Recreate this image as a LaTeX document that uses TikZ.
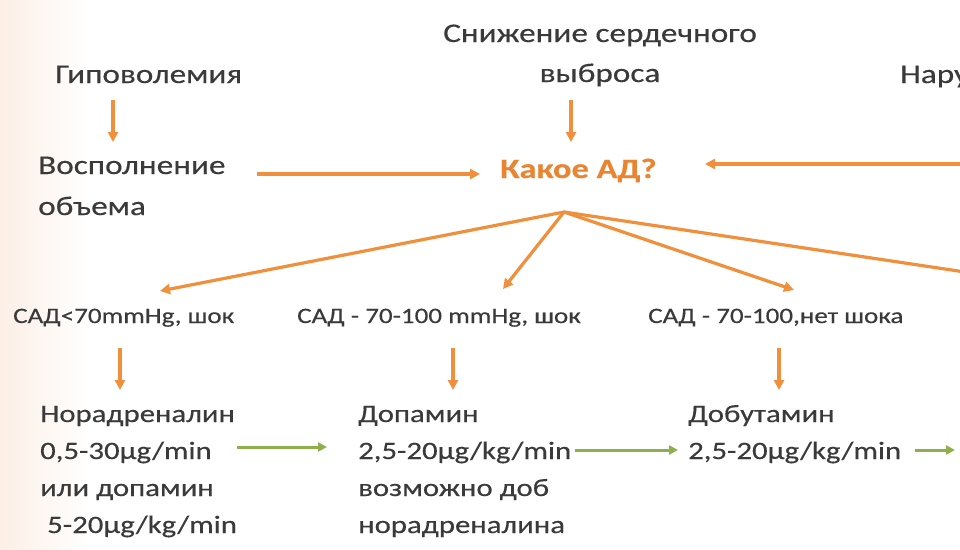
\documentclass[tikz,border=0pt]{standalone}
\usepackage{fontspec}
\setmainfont{Carlito}[FakeStretch=1.23, FakeBold=0.35]
\usetikzlibrary{arrows.meta}
\definecolor{txt}{HTML}{3A3A3A}
\definecolor{org}{HTML}{F0903C}
\definecolor{orgd}{HTML}{E98430}
\definecolor{grn}{HTML}{8DB04A}
\definecolor{peach}{HTML}{FCEFE6}
\tikzset{
  big/.style={font=\fontsize{27}{41}\selectfont, text=txt, inner sep=0pt, anchor=base west},
  mid/.style={font=\fontsize{22}{26}\selectfont, text=txt, inner sep=0pt, anchor=base west},
  low/.style={font=\fontsize{25}{37}\selectfont, text=txt, inner sep=0pt, anchor=base west},
  oarr/.style={draw=org, line width=3.2pt, -{Triangle[length=10pt,width=10pt]}},
  garr/.style={draw=grn, line width=3pt, -{Triangle[length=9pt,width=9pt]}},
}
\begin{document}
\begin{tikzpicture}[x=1pt,y=-1pt]
\useasboundingbox (0,0) rectangle (960,549);
\clip (0,0) rectangle (960,549);
\fill[white] (0,0) rectangle (960,549);
\shade[left color=peach, right color=white] (0,0) rectangle (90,549);
% top nodes
\node[big] (hypo) at (55,83) {Гиповолемия};
\node[big] (vol1) at (38,174) {Восполнение};
\node[big] (vol2) at (38,215) {объема};
\node[big, anchor=base] (card1) at (600,42) {Снижение сердечного};
\node[big, anchor=base] (card2) at (600,82) {выброса};
\node[font=\fontsize{28}{34}\selectfont\bfseries, text=orgd, inner sep=0pt, anchor=base west] (bp) at (500,178) {Какое АД?};
\node[big] (naru) at (900,83) {Нару};
% second row
\node[mid] (l1) at (13,323) {САД<70mmHg, шок};
\node[mid] (l2) at (297,323) {САД - 70-100 mmHg, шок};
\node[mid] (l3) at (648,323) {САД - 70-100,нет шока};
% bottom
\node[low] (d1a) at (40,422) {Норадреналин};
\node[low] (d1b) at (40,459) {0,5-30μg/min};
\node[low] (d1c) at (40,496) {или допамин};
\node[low] (d1d) at (47,533) {5-20μg/kg/min};
\node[low] (d2a) at (358,422) {Допамин};
\node[low] (d2b) at (358,459) {2,5-20μg/kg/min};
\node[low] (d2c) at (358,496) {возможно доб};
\node[low] (d2d) at (358,533) {норадреналина};
\node[low] (d3a) at (688,422) {Добутамин};
\node[low] (d3b) at (688,459) {2,5-20μg/kg/min};
% coordinates
\coordinate (a1s) at (113,100); \coordinate (a1e) at (113,142);
\coordinate (a2s) at (257,174); \coordinate (a2e) at (480,174);
\coordinate (a3s) at (571,100); \coordinate (a3e) at (571,142);
\coordinate (a4s) at (965,164); \coordinate (a4e) at (705,164);
\coordinate (apex) at (564,212);
\coordinate (f1) at (160,291); \coordinate (f2) at (503,289);
\coordinate (f3) at (794,290); \coordinate (f4) at (965,272);
\coordinate (v1s) at (120,348); \coordinate (v1e) at (120,390);
\coordinate (v2s) at (453,348); \coordinate (v2e) at (453,390);
\coordinate (v3s) at (779,348); \coordinate (v3e) at (779,390);
\coordinate (g1s) at (237,447); \coordinate (g1e) at (327,447);
\coordinate (g2s) at (575,450); \coordinate (g2e) at (678,450);
\coordinate (g3s) at (915,450); \coordinate (g3e) at (955,450);
% arrows
\draw[oarr] (a1s) -- (a1e);
\draw[oarr] (a2s) -- (a2e);
\draw[oarr] (a3s) -- (a3e);
\draw[oarr] (a4s) -- (a4e);
\draw[oarr] (apex) -- (f1);
\draw[oarr] (apex) -- (f2);
\draw[oarr] (apex) -- (f3);
\draw[draw=org, line width=3.2pt] (apex) -- (f4);
\draw[oarr] (v1s) -- (v1e);
\draw[oarr] (v2s) -- (v2e);
\draw[oarr] (v3s) -- (v3e);
\draw[garr] (g1s) -- (g1e);
\draw[garr] (g2s) -- (g2e);
\draw[garr] (g3s) -- (g3e);
\end{tikzpicture}
\end{document}
